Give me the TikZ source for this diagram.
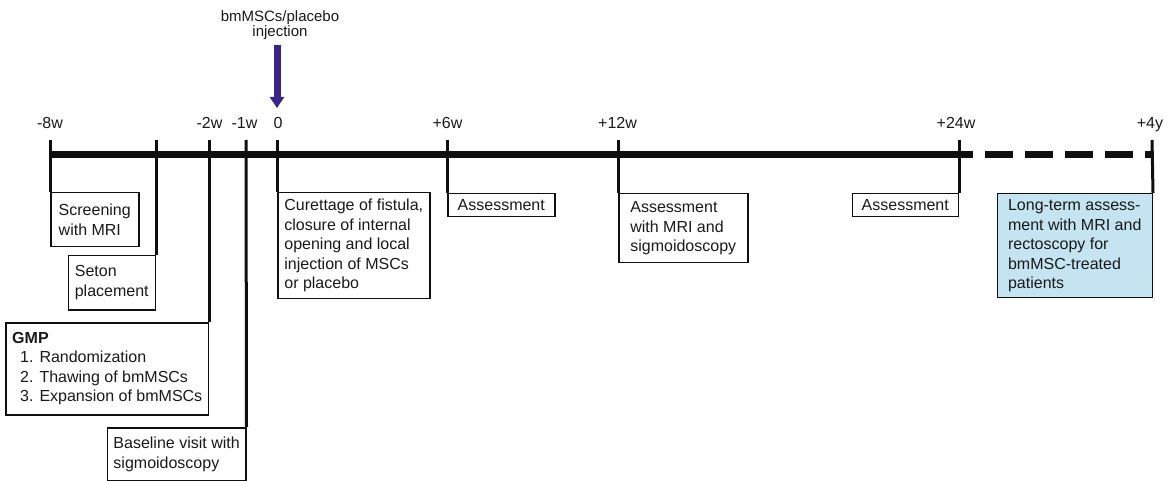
\documentclass[tikz,border=0pt]{standalone}
\usepackage{fontspec}
\setmainfont{Liberation Sans}
\usetikzlibrary{arrows.meta}
\definecolor{arrowc}{RGB}{58,36,138}
\definecolor{ltblue}{RGB}{197,228,242}
\definecolor{txt}{RGB}{25,25,25}
\definecolor{ink}{RGB}{15,15,15}
\begin{document}
\begin{tikzpicture}[x=1pt,y=-1pt,
  box/.style={draw=ink, line width=1.5pt, align=left, inner xsep=6pt, inner ysep=2pt,
    font=\fontsize{16}{19.5}\selectfont, text=txt},
  tickline/.style={draw=ink, line width=3pt},
  tlabel/.style={anchor=base, font=\fontsize{16}{19.5}\selectfont, text=txt},
  mainline/.style={draw=ink, line width=7pt},
]
\useasboundingbox (0,0) rectangle (1168,481);

% tick tops
\coordinate (m8) at (50,140);
\coordinate (set) at (156,140);
\coordinate (m2) at (209,140);
\coordinate (m1) at (246,140);
\coordinate (z0) at (277,140);
\coordinate (p6) at (447,140);
\coordinate (p12) at (618,140);
\coordinate (p24) at (959,140);
\coordinate (p4y) at (1152,140);

% main line
\coordinate (lstart) at (48.5,155);
\coordinate (l24) at (959,155);
\coordinate (l4y) at (1153.5,155);
\draw[mainline] (lstart) -- (l24);
\draw[mainline, dash pattern=on 28pt off 12pt, dash phase=14pt] (l24) -- (l4y);

% labels
\node[tlabel] (lm8) at (50,129) {-8w};
\node[tlabel] (lm2) at (209.5,129) {-2w};
\node[tlabel] (lm1) at (244.5,129) {-1w};
\node[tlabel] (lz0) at (278,129) {0};
\node[tlabel] (lp6) at (447.5,129) {+6w};
\node[tlabel] (lp12) at (617.5,129) {+12w};
\node[tlabel] (lp24) at (956,129) {+24w};
\node[tlabel] (lp4y) at (1150,129) {+4y};

% injection arrow
\node[align=center, font=\fontsize{15}{15}\selectfont, text=txt, inner sep=0pt] (inj) at (280,25) {bmMSCs/placebo\\injection};
\coordinate (arrs) at (277,45);
\coordinate (arre) at (277,108);
\draw[arrowc, line width=7pt, -{Triangle[length=11pt,width=14pt]}] (arrs) -- (arre);

% boxes
\node[box, minimum width=88pt, minimum height=54pt, anchor=north west] (scr) at (50,192) {Screening\\with MRI};
\node[box, minimum width=87pt, minimum height=54pt, anchor=north east] (seton) at (156,255) {Seton\\placement};
\node[box, minimum width=199pt, minimum height=92pt, anchor=north east] (gmp) at (209,322)
  {\textbf{GMP}\\\hspace*{8pt}1. Randomization\\\hspace*{8pt}2. Thawing of bmMSCs\\\hspace*{8pt}3. Expansion of bmMSCs};
\node[box, minimum width=137pt, minimum height=53pt, anchor=north east] (base) at (246.5,427) {Baseline visit with\\sigmoidoscopy};
\node[box, minimum width=152pt, minimum height=106pt, anchor=north west] (cur) at (277,192)
  {Curettage of fistula,\\closure of internal\\opening and local\\injection of MSCs\\or placebo};
\node[box, minimum width=107pt, minimum height=23pt, inner ysep=0pt, anchor=north west] (a6) at (447,193) {Assessment};
\node[box, minimum width=129pt, minimum height=69pt, anchor=north west] (a12) at (618,193) {Assessment\\with MRI and\\sigmoidoscopy};
\node[box, minimum width=106pt, minimum height=23pt, inner ysep=0pt, anchor=north east] (a24) at (959,193) {Assessment};
\node[box, fill=ltblue, minimum width=155pt, minimum height=104pt, anchor=north east] (lt) at (1153,193)
  {Long-term assess-\\ment with MRI and\\rectoscopy for\\bmMSC-treated\\patients};

% ticks down to boxes
\draw[tickline] (m8) -- (scr.north west);
\draw[tickline] (set) -- (seton.north east);
\draw[tickline] (m2) -- (gmp.north east);
\draw[tickline] (m1) -- (base.north east);
\draw[tickline] (z0) -- (cur.north west);
\draw[tickline] (p6) -- (a6.north west);
\draw[tickline] (p12) -- (a12.north west);
\draw[tickline] (p24) -- (a24.north east);
\draw[tickline] (p4y) -- (lt.north east);
\end{tikzpicture}
\end{document}
